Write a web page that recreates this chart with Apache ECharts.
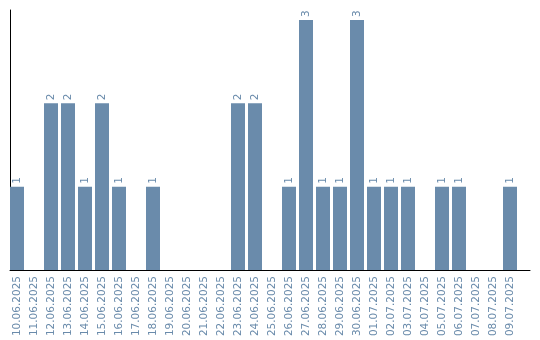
<!DOCTYPE html>
<html><head><meta charset="utf-8">
<script src="https://cdn.jsdelivr.net/npm/echarts@6/dist/echarts.min.js"></script>
<style>html,body{margin:0;padding:0;background:#fff}#c{width:540px;height:340px}</style>
</head><body><div id="c"></div>
<script>
const categories = ["10.06.2025","11.06.2025","12.06.2025","13.06.2025","14.06.2025","15.06.2025","16.06.2025","17.06.2025","18.06.2025","19.06.2025","20.06.2025","21.06.2025","22.06.2025","23.06.2025","24.06.2025","25.06.2025","26.06.2025","27.06.2025","28.06.2025","29.06.2025","30.06.2025","01.07.2025","02.07.2025","03.07.2025","04.07.2025","05.07.2025","06.07.2025","07.07.2025","08.07.2025","09.07.2025"];
const values = [1,0,2,2,1,2,1,0,1,0,0,0,0,2,2,0,1,3,1,1,3,1,1,1,0,1,1,0,0,1];
const color = '#6a8bab';
const font = 'DejaVu Sans';
const chart = echarts.init(document.getElementById('c'), null, {renderer:'canvas'});
chart.setOption({
  animation:false,
  grid:[
    {left:8.5, width:510, top:10, height:260},
    {left:10, right:10, top:10, height:260}
  ],
  xAxis:[
    {type:'category', gridIndex:0, data:categories,
     axisLine:{show:false}, axisTick:{show:false},
     axisLabel:{rotate:90, color:color, fontFamily:font, fontSize:10.5, margin:6, interval:0}},
    {type:'value', gridIndex:1, min:0, max:1, axisLine:{show:true, lineStyle:{color:'#000', width:1}},
     axisTick:{show:false}, axisLabel:{show:false}, splitLine:{show:false}}
  ],
  yAxis:[
    {type:'value', gridIndex:0, min:0, max:3.12, show:false, splitLine:{show:false}},
    {type:'value', gridIndex:1, min:0, max:1, axisLine:{show:true, lineStyle:{color:'#000', width:1}},
     axisTick:{show:false}, axisLabel:{show:false}, splitLine:{show:false}}
  ],
  series:[{
    type:'bar', xAxisIndex:0, yAxisIndex:0,
    data: values.map(v => v === 0 ? null : v),
    barWidth:14,
    itemStyle:{color:color},
    label:{show:true, position:'top', rotate:90, align:'left', verticalAlign:'middle',
      distance:3, color:color, fontFamily:font, fontSize:10.5}
  }]
});
</script></body></html>
